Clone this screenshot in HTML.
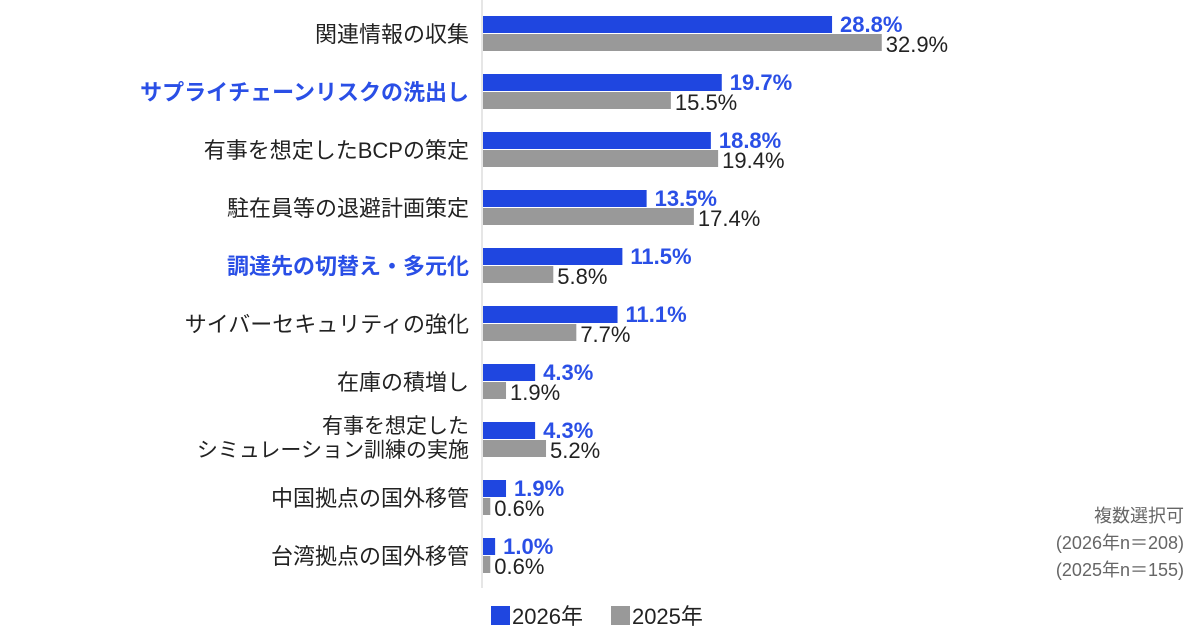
<!DOCTYPE html>
<html><head><meta charset="utf-8"><style>
body{margin:0;background:#fff;font-family:"Liberation Sans","Noto Sans CJK JP",sans-serif;}
svg text{font-family:"Liberation Sans","Noto Sans CJK JP",sans-serif;}
</style></head><body>
<svg id="c" width="1200" height="630"></svg>
<script>
const categories=["関連情報の収集","サプライチェーンリスクの洗出し","有事を想定したBCPの策定","駐在員等の退避計画策定","調達先の切替え・多元化","サイバーセキュリティの強化","在庫の積増し","有事を想定した|シミュレーション訓練の実施","中国拠点の国外移管","台湾拠点の国外移管"];
const highlight=[false,true,false,false,true,false,false,false,false,false];
const values2026=[28.8,19.7,18.8,13.5,11.5,11.1,4.3,4.3,1.9,1.0];
const values2025=[32.9,15.5,19.4,17.4,5.8,7.7,1.9,5.2,0.6,0.6];
const svg=document.getElementById('c');
const NS='http://www.w3.org/2000/svg';
const x0=483, scale=12.12, top0=16, pitch=58, bh=17;
const xw=v=>Math.max(v*scale,7);
function mk(t,a,txt){const e=document.createElementNS(NS,t);for(const k in a)e.setAttribute(k,a[k]);if(txt!=null)e.textContent=txt;svg.appendChild(e);return e;}
categories.forEach((c,i)=>{
  const y=top0+i*pitch;
  const b1=mk('rect',{x:x0,y:y,width:xw(values2026[i]),height:bh,fill:'#1f46e0'});
  
  
  const b2=mk('rect',{x:x0,y:y+bh+1,width:xw(values2025[i]),height:bh,fill:'#999999'});
  
  
  const t1=mk('text',{x:x0+xw(values2026[i])+8,y:y+16,'font-size':22,'font-weight':'bold',fill:'#2a4fe6'},values2026[i].toFixed(1)+'%');
  
  
  const t2=mk('text',{x:x0+xw(values2025[i])+4,y:y+bh+19,'font-size':22,fill:'#222'},values2025[i].toFixed(1)+'%');
  
  
  const parts=c.split('|');
  const col=highlight[i]?'#2a4fe6':'#222';
  const fw=highlight[i]?'bold':'normal';
  parts.forEach((p,j)=>{
    const yy=parts.length==1?y+26:y+11+j*24;
    const l=mk('text',{x:469,y:yy,'font-size':parts.length==1?22:21,'text-anchor':'end',fill:col,'font-weight':fw},p);
    
    
  });
});
const ax=mk('line',{x1:482,y1:0,x2:482,y2:588,stroke:'#ccc','stroke-width':1});


</script>
<div style="position:absolute;left:491px;top:599px;font-size:22px;color:#222;display:flex;align-items:center;">
<span style="display:inline-block;width:19px;height:19px;background:#1f46e0;margin-right:2px"></span><span>2026年</span>
<span style="display:inline-block;width:19px;height:19px;background:#999;margin-left:28px;margin-right:2px"></span><span>2025年</span>
</div>
<div style="position:absolute;right:16px;top:503px;text-align:right;font-size:18px;line-height:27px;color:#666">複数選択可<br>(2026年n＝208)<br>(2025年n＝155)</div>
</body></html>
